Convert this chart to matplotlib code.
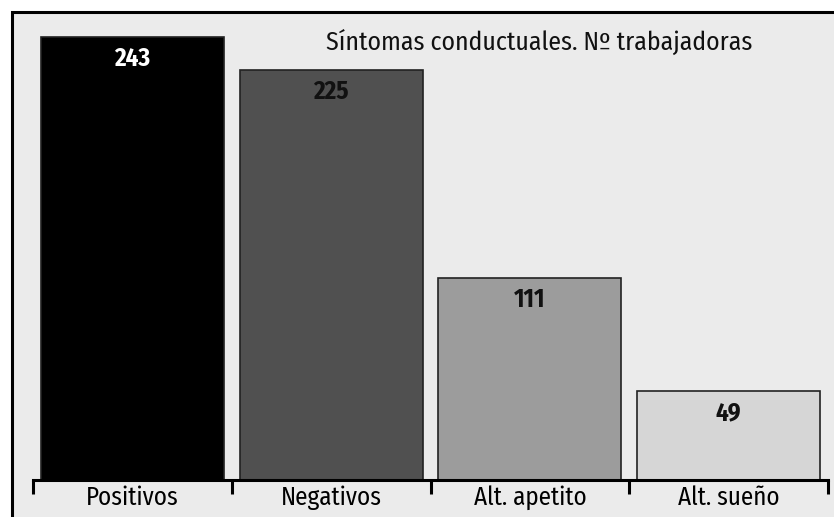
import matplotlib.pyplot as plt
from matplotlib import font_manager
from matplotlib.patches import Rectangle

# Síntomas conductuales - número de trabajadoras
categorias = ['Positivos', 'Negativos', 'Alt. apetito', 'Alt. sueño']
valores = [243, 225, 111, 49]
colores = ['#000000', '#505050', '#9c9c9c', '#d6d6d6']
colores_texto = ['white', '#111111', '#111111', '#111111']

# fuente estrecha parecida a la del original
instaladas = set(f.name for f in font_manager.fontManager.ttflist)
candidatas = ['Fira Sans Condensed', 'PT Sans Narrow', 'Roboto Condensed',
              'Open Sans Condensed', 'Encode Sans Condensed', 'Asap Condensed']
fuente = next((c for c in candidatas if c in instaladas), 'DejaVu Sans')
plt.rcParams['font.family'] = [fuente, 'DejaVu Sans']

fig = plt.figure(figsize=(8.34, 5.17), dpi=100)
fig.patch.set_facecolor('white')

# marco exterior con fondo gris claro
fondo = Rectangle((12 / 834, -0.01), 1, 1 - 12 / 517 + 0.01, transform=fig.transFigure,
                  facecolor='#ebebeb', edgecolor='black', linewidth=2.2, zorder=-5)
fig.patches.append(fondo)

ax = fig.add_axes([33 / 834, 37 / 517, 795 / 834, 466 / 517])
ax.set_facecolor('none')
ax.set_zorder(1)

x = list(range(len(categorias)))
ax.bar(x, valores, width=0.92, color=colores, edgecolor='#222222',
       linewidth=1.2, zorder=2)

for i, v in enumerate(valores):
    ax.annotate(str(v), (i, v), xytext=(0, -7), textcoords='offset points',
                ha='center', va='top', fontsize=18, fontweight='bold',
                color=colores_texto[i], zorder=3)

ax.set_xlim(-0.5, 3.5)
ax.set_ylim(0, 255.6)

ax.set_xticks(x)
ax.set_xticklabels(categorias, fontsize=18)
ax.set_xticks([-0.5, 0.5, 1.5, 2.5, 3.5], minor=True)
ax.tick_params(axis='x', which='major', length=0, pad=4)
ax.tick_params(axis='x', which='minor', length=10, width=2.2, direction='out')
ax.set_yticks([])

for s in ['top', 'right', 'left']:
    ax.spines[s].set_visible(False)
ax.spines['bottom'].set_linewidth(2.2)

ax.text(0.637, 0.94, 'Síntomas conductuales. Nº trabajadoras', transform=ax.transAxes,
        ha='center', va='center', fontsize=18.5, color='#111111')

fig.savefig('out.png', dpi=100)
